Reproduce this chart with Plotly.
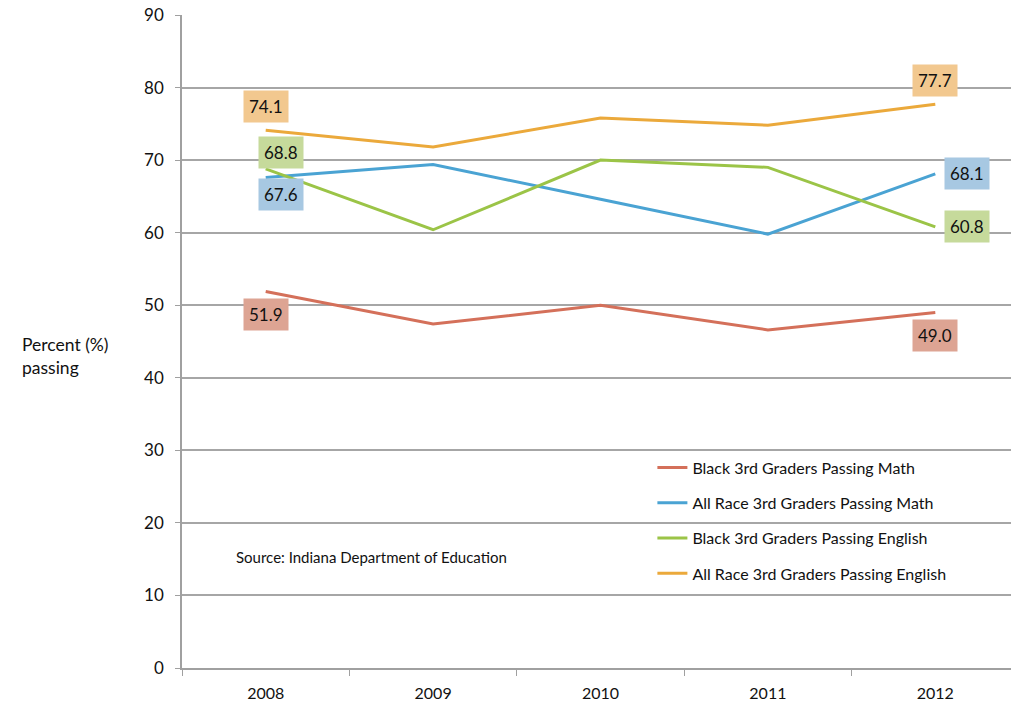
import plotly.graph_objects as go

years = ["2008", "2009", "2010", "2011", "2012"]
black_math = [51.9, 47.4, 50.0, 46.6, 49.0]
all_math = [67.6, 69.4, 64.6, 59.8, 68.1]
black_english = [68.8, 60.4, 70.0, 69.0, 60.8]
all_english = [74.1, 71.8, 75.8, 74.8, 77.7]

series_names = [
    "Black 3rd Graders Passing Math",
    "All Race 3rd Graders Passing Math",
    "Black 3rd Graders Passing English",
    "All Race 3rd Graders Passing English",
]
series_values = [black_math, all_math, black_english, all_english]
line_colors = ["#D4705A", "#4AA3D3", "#9BC447", "#EBA93B"]
label_colors = ["#DDA493", "#A7C8E2", "#C6DA9B", "#F2C88F"]

# (first label shift, last label shift) in px
label_shifts = [
    ((0, -23), (0, -23)),
    ((15, -17), (32, 0)),
    ((15, 16), (32, 0)),
    ((0, 24), (0, 24)),
]

FONT = "Lato, 'Open Sans', sans-serif"

fig = go.Figure()
for i in range(len(series_names)):
    fig.add_trace(go.Scatter(
        x=years, y=series_values[i], name=series_names[i],
        mode="lines", line=dict(color=line_colors[i], width=3),
        legendgroup=str(i)))

annotations = []
for i in range(len(series_names)):
    for idx, sh in zip([0, len(years) - 1], label_shifts[i]):
        # category axis: numeric x is the category index
        annotations.append(dict(
            x=idx, y=series_values[i][idx], xref="x", yref="y",
            text="%.1f" % series_values[i][idx], showarrow=False,
            xshift=sh[0], yshift=sh[1], bgcolor=label_colors[i],
            borderpad=5, font=dict(size=17, color="#111111", family=FONT)))

annotations.append(dict(
    x=0, xref="paper", xshift=-162, xanchor="left",
    y=43, yref="y", yanchor="middle", align="left",
    text="Percent (%)<br>passing", showarrow=False,
    font=dict(size=17.5, color="#111111", family=FONT)))
annotations.append(dict(
    x=0.062, xref="paper", xanchor="left",
    y=15.3, yref="y", yanchor="middle",
    text="Source: Indiana Department of Education", showarrow=False,
    font=dict(size=15, color="#111111", family=FONT)))

fig.update_layout(
    width=1019, height=707,
    margin=dict(l=174, r=8, t=7, b=47),
    paper_bgcolor="white", plot_bgcolor="white",
    font=dict(family=FONT, color="#111111"),
    annotations=annotations,
    shapes=[dict(type="rect", xref="paper", yref="y",
                 x0=0.535, x1=0.951, y0=12, y1=28,
                 fillcolor="white", line=dict(width=0), layer="between")],
    legend=dict(x=0.562, y=0.333, xanchor="left", yanchor="top",
                bgcolor="rgba(0,0,0,0)", font=dict(size=16, family=FONT),
                tracegroupgap=11.5, itemwidth=30),
    showlegend=True,
)
fig.update_xaxes(
    type="category", range=[-0.5, 4.5], tickson="boundaries", ticks="outside",
    ticklen=6, tickcolor="#A0A0A0", showline=True, linecolor="#A0A0A0",
    linewidth=1.5, showgrid=False, automargin=False,
    tickfont=dict(size=16, family=FONT, color="#111111"), ticklabelstandoff=10)
fig.update_yaxes(
    range=[0, 90], dtick=10, ticks="outside", ticklen=5, tickcolor="#A0A0A0",
    showline=True, linecolor="#A0A0A0", linewidth=1.5, zeroline=False,
    gridcolor="#A6A6A6", gridwidth=1.5, ticklabeloverflow="allow",
    automargin=False,
    tickfont=dict(size=17, family=FONT, color="#111111"), ticklabelstandoff=8)

fig.write_html("out.html")
